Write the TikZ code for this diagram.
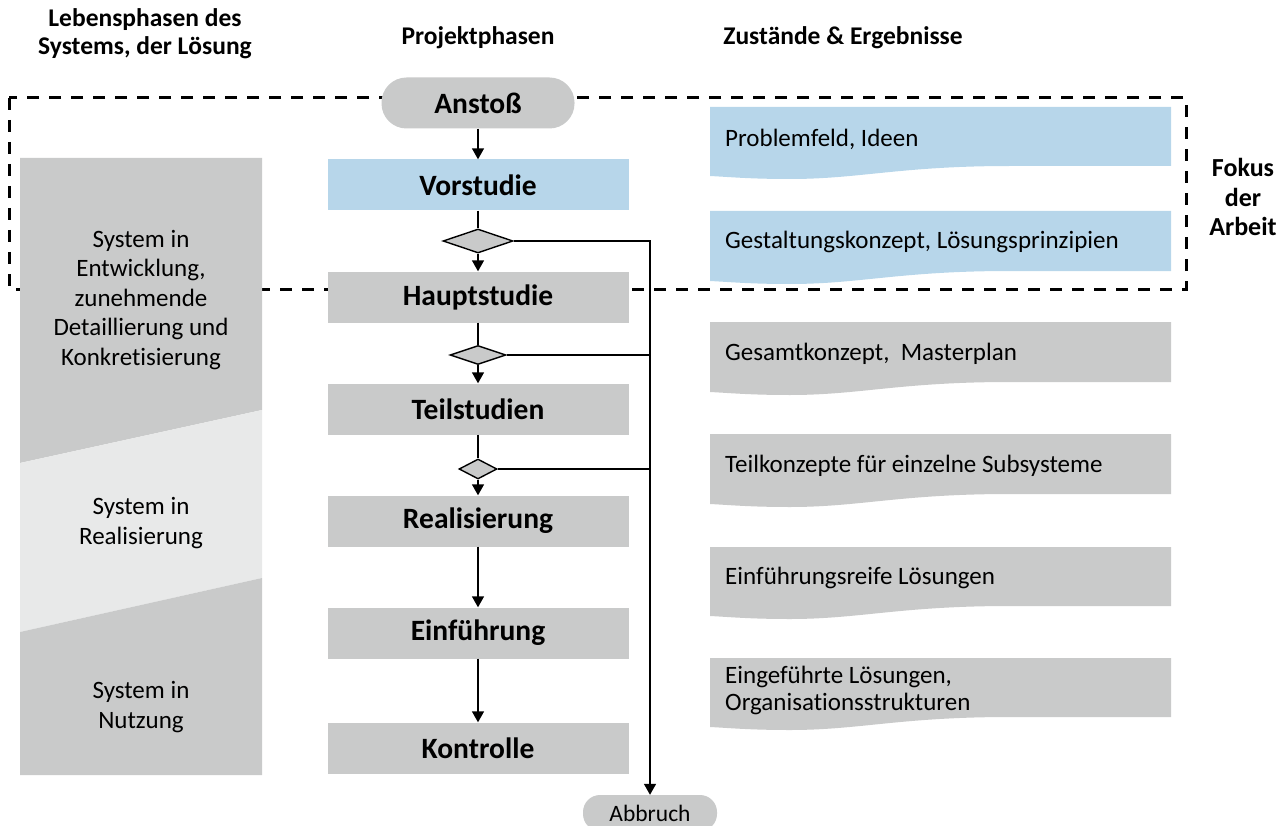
\documentclass[tikz,border=0pt]{standalone}
\usepackage{fontspec}
\setmainfont{Carlito}[Ligatures={NoCommon}]
\usetikzlibrary{arrows.meta,shapes.geometric}

\definecolor{boxgray}{RGB}{201,202,202}
\definecolor{palegray}{RGB}{232,233,233}
\definecolor{boxblue}{RGB}{183,214,234}

\tikzset{
  phase/.style={rectangle, fill=boxgray, minimum width=301pt, minimum height=51pt,
    inner sep=0pt, font=\bfseries\fontsize{29.5}{34}\selectfont},
  pill/.style={rectangle, rounded corners=17pt, fill=boxgray, inner sep=0pt},
  decision/.style={diamond, draw=black, line width=1.4pt, fill=boxgray, inner sep=0pt},
  flow/.style={line width=1.5pt, draw=black},
  arr/.style={flow, -{Triangle[length=11pt,width=12pt]}},
  header/.style={font=\bfseries\fontsize{25.5}{28}\selectfont, align=center},
  lifetext/.style={font=\fontsize{25}{29.5}\selectfont, align=center},
  restext/.style={font=\fontsize{25}{27}\selectfont, align=left, anchor=west, inner sep=0pt},
  focusbox/.style={line width=3pt, dash pattern=on 12pt off 10pt}
}

% wavy-bottom document shape: #1 top, #2 bottom at right edge, #3 colour
\newcommand{\docshape}[3]{%
  \fill[#3] (710,#1) -- (1171,#1) -- (1171,#2) -- (1010,#2)
    .. controls (900,#2) and (860,#2+13) .. (790,#2+13)
    .. controls (750,#2+13) and (730,#2+11) .. (710,#2+10) -- cycle;}

\begin{document}
\begin{tikzpicture}[x=1pt,y=-1pt]
\useasboundingbox (0,0) rectangle (1284,826);

% column headers
\node[header] (h1) at (145,34) {Lebensphasen des\\Systems, der Lösung};
\node[header] (h2) at (478,38) {Projektphasen};
\node[header] (h3) at (843,38) {Zustände \& Ergebnisse};

% focus frame
\draw[focusbox] (9,98) rectangle (1186,289);
\node[header, font=\bfseries\fontsize{26}{29.5}\selectfont] (fokus) at (1243,197) {Fokus\\der\\Arbeit};

% life phases of the system
\fill[boxgray] (20,158) -- (262,158) -- (262,410) -- (20,463) -- cycle;
\fill[palegray] (20,463) -- (262,410) -- (262,578) -- (20,632) -- cycle;
\fill[boxgray] (20,632) -- (262,578) -- (262,775) -- (20,775) -- cycle;
\node[lifetext] (lp1) at (141,300) {System in\\Entwicklung,\\zunehmende\\Detaillierung und\\Konkretisierung};
\node[lifetext] (lp2) at (141,523) {System in\\Realisierung};
\node[lifetext] (lp3) at (141,707) {System in\\Nutzung};

% project phases
\node[pill, minimum width=193pt, minimum height=51pt, rounded corners=25pt,
      font=\bfseries\fontsize{29.5}{34}\selectfont] (anstoss) at (478,103) {Anstoß};
\node[phase, fill=boxblue] (vor) at (478,185) {Vorstudie};
\node[decision, minimum width=70pt, minimum height=24pt] (d1) at (478,241) {};
\node[phase] (haupt) at (478,297) {Hauptstudie};
\node[decision, minimum width=56pt, minimum height=19pt] (d2) at (478,355) {};
\node[phase] (teil) at (478,409) {Teilstudien};
\node[decision, minimum width=38pt, minimum height=20pt] (d3) at (478,469) {};
\node[phase] (real) at (478,521) {Realisierung};
\node[phase] (einf) at (478,633) {Einführung};
\node[phase] (kontr) at (478,748) {Kontrolle};
\node[pill, minimum width=134pt, minimum height=36pt,
      font=\fontsize{23.5}{27}\selectfont] (abbruch) at (650,813) {Abbruch};

% flow
\draw[arr] (anstoss) -- (vor);
\draw[flow] (vor) -- (d1);
\draw[arr] (d1) -- (haupt);
\draw[flow] (haupt) -- (d2);
\draw[arr] (d2) -- (teil);
\draw[flow] (teil) -- (d3);
\draw[arr] (d3.south -| real.north) -- (real);
\draw[arr] (real) -- (einf);
\draw[arr] (einf) -- (kontr);
\draw[arr] (d1.east) -| (abbruch.north);
\draw[flow] (d2.east) -- (d2.east -| abbruch.north);
\draw[flow] (d3.east) -- (d3.east -| abbruch.north);

% states and results
\docshape{107}{166}{boxblue}
\docshape{211}{271}{boxblue}
\docshape{322}{382}{boxgray}
\docshape{434}{494}{boxgray}
\docshape{547}{606}{boxgray}
\docshape{658}{717}{boxgray}
\node[restext] (r1) at (725,139) {Problemfeld, Ideen};
\node[restext] (r2) at (725,242) {Gestaltungskonzept, Lösungsprinzipien};
\node[restext] (r3) at (725,354) {Gesamtkonzept,\ \ Masterplan};
\node[restext] (r4) at (725,466) {Teilkonzepte für einzelne Subsysteme};
\node[restext] (r5) at (725,578) {Einführungsreife Lösungen};
\node[restext] (r6) at (725,690) {Eingeführte Lösungen,\\Organisationsstrukturen};
\end{tikzpicture}
\end{document}
